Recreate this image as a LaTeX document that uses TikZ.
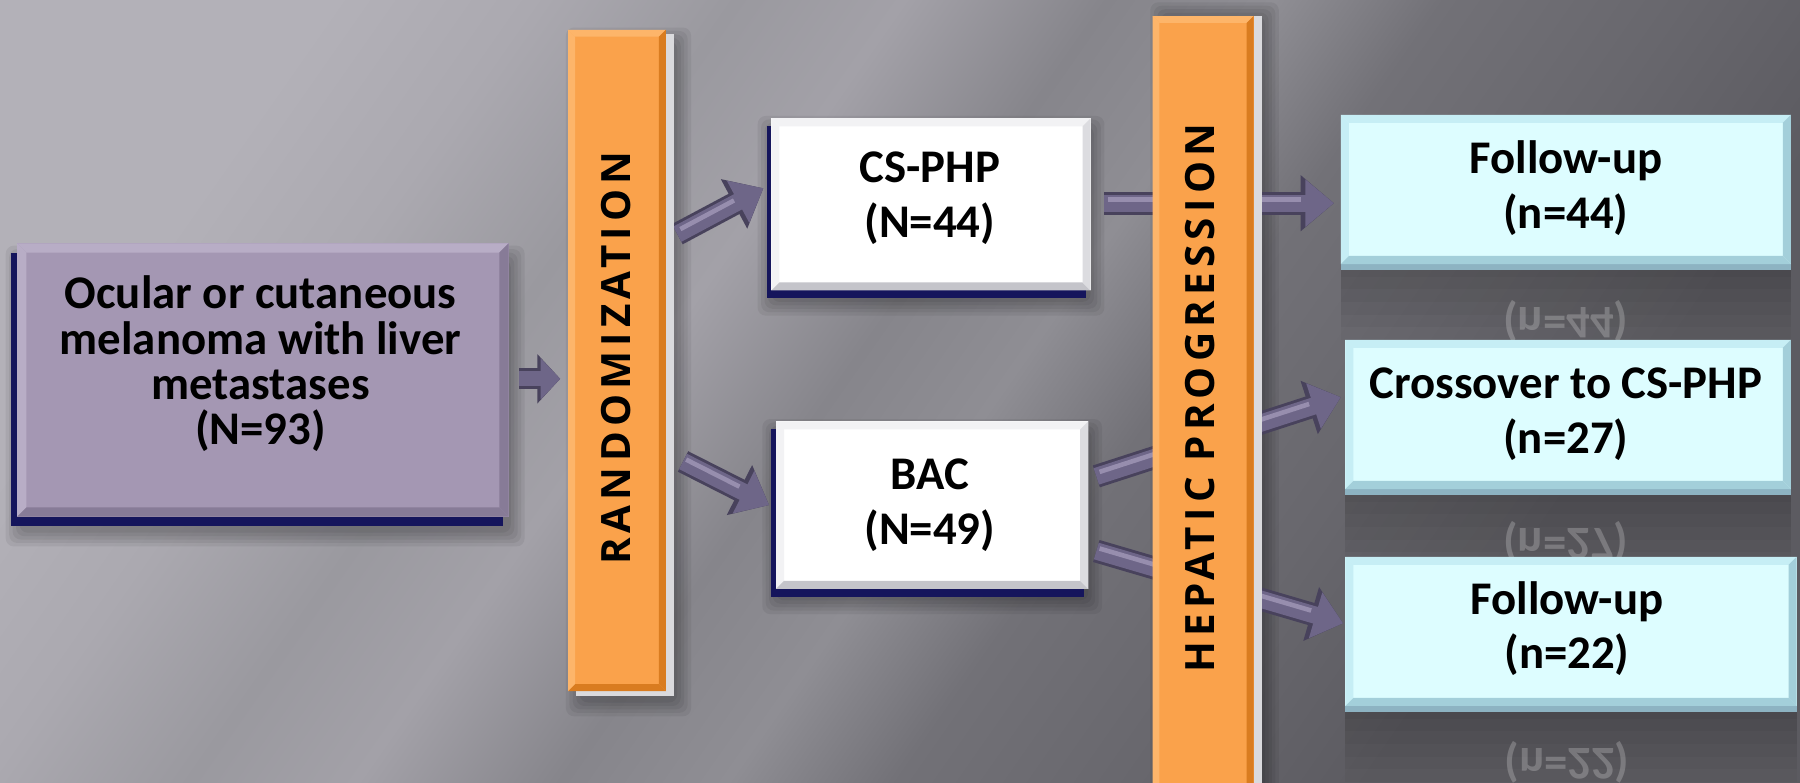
\documentclass[tikz,border=0pt]{standalone}
\usepackage{fontspec}
\setmainfont{Carlito}
\newfontfamily\barfont[LetterSpace=13]{Open Sans}
\usetikzlibrary{arrows.meta,calc}
\definecolor{bg1}{HTML}{B3B1B8}
\definecolor{bg2}{HTML}{ABA9B0}
\definecolor{bg3}{HTML}{9A999F}
\definecolor{bg4}{HTML}{A3A1A8}
\definecolor{bg5}{HTML}{86858B}
\definecolor{bg6}{HTML}{8F8E94}
\definecolor{bg7}{HTML}{727177}
\definecolor{bg8}{HTML}{68676D}
\definecolor{bg9}{HTML}{5C5B61}
\pgfdeclarehorizontalshading{bgsh}{100bp}{color(0bp)=(bg1); color(25bp)=(bg1); color(31bp)=(bg2); color(37bp)=(bg3); color(42bp)=(bg4); color(48bp)=(bg5); color(53bp)=(bg6); color(58bp)=(bg7); color(65bp)=(bg8); color(72bp)=(bg9); color(100bp)=(bg9)}
\definecolor{purp}{HTML}{A497B3}
\definecolor{purpL}{HTML}{B8ADC6}
\definecolor{purpD}{HTML}{877B97}
\definecolor{navy}{HTML}{15155C}
\definecolor{orng}{HTML}{FAA24B}
\definecolor{orngL}{HTML}{FDB56A}
\definecolor{orngD}{HTML}{D97C20}
\definecolor{cyanb}{HTML}{DDFDFF}
\definecolor{cyanL}{HTML}{C6EEF5}
\definecolor{cyanD}{HTML}{A3CFDA}
\definecolor{cyanE}{HTML}{8DB3C2}
\definecolor{wL}{HTML}{F2F2F4}
\definecolor{wD}{HTML}{C4C4CA}
\definecolor{wR}{HTML}{DCDCE0}
\definecolor{strip}{HTML}{DADADD}
\definecolor{arrw}{HTML}{6E6688}
\definecolor{arrwL}{HTML}{978EAE}
\definecolor{arrwD}{HTML}{48425C}
\pgfdeclarelayer{bgl}
\pgfdeclarelayer{shl}
\pgfdeclarelayer{arl}
\pgfdeclarelayer{exl}
\pgfsetlayers{bgl,shl,arl,exl,main}
\tikzset{
  face/.style={rectangle, inner sep=0pt, outer sep=0pt},
  lbl/.style={font=\fontsize{11.6}{11.2}\selectfont\bfseries, align=center, inner sep=0pt, text=black},
  lbls/.style={font=\fontsize{11.6}{13.5}\selectfont\bfseries, align=center, inner sep=0pt, text=black},
  bartxt/.style={font=\barfont\fontsize{10}{10}\selectfont\bfseries, rotate=90, inner sep=0pt, text=black},
  arrowout/.style={draw=arrwD, line width=0.20cm, -{Triangle[length=0.29cm,width=0.47cm]}},
  arrowin/.style={draw=arrw, line width=0.15cm, -{Triangle[length=0.25cm,width=0.40cm]}},
  arrowhi/.style={draw=arrwL, line width=0.04cm, shorten >=0.29cm, shorten <=0.03cm, transform canvas={yshift=0.03cm}},
  arrowouts/.style={draw=arrwD, line width=0.18cm, -{Triangle[length=0.20cm,width=0.42cm]}},
  arrowins/.style={draw=arrw, line width=0.13cm, -{Triangle[length=0.17cm,width=0.35cm]}},
  refl/.style={lbls, text=white, opacity=0.22, yscale=-1},
}
\newcommand\bevel[5]{%
  \fill[#3] (#1.north west) -- (#1.north east) -- ([shift={(-#2,-#2)}]#1.north east) -- ([shift={(#2,-#2)}]#1.north west) -- cycle;
  \fill[#3] (#1.north west) -- ([shift={(#2,-#2)}]#1.north west) -- ([shift={(#2,#2)}]#1.south west) -- (#1.south west) -- cycle;
  \fill[#4] (#1.south west) -- (#1.south east) -- ([shift={(-#2,#2)}]#1.south east) -- ([shift={(#2,#2)}]#1.south west) -- cycle;
  \fill[#5] (#1.south east) -- (#1.north east) -- ([shift={(-#2,-#2)}]#1.north east) -- ([shift={(-#2,#2)}]#1.south east) -- cycle;
}
\newcommand\extrude[4]{%
  \begin{pgfonlayer}{exl}
  \fill[#4] ([shift={(#2,#3)}]#1.north west) rectangle ([shift={(#2,#3)}]#1.south east);
  \end{pgfonlayer}}
\newcommand\softshadow[3]{%
  \begin{pgfonlayer}{shl}
  \foreach \s in {0,1,2,3,4}{
    \fill[black, opacity=0.06, rounded corners=2pt] ($(#1.north west)+(-0.03*\s+#2,0.03*\s+#3)$) rectangle ($(#1.south east)+(0.03*\s+#2,-0.03*\s+#3)$);
  }
  \end{pgfonlayer}}
\newcommand\reflband[1]{%
  \begin{pgfonlayer}{shl}
  \foreach \s in {1,2,3,4,5,6}{
    \fill[black, opacity=0.03] (#1.south west) rectangle ([yshift=-0.11cm*\s]#1.south east);
  }
  \end{pgfonlayer}}
\newcommand\fatarrow[2]{%
  \begin{pgfonlayer}{arl}
  \draw[arrowout] (#1) -- (#2);
  \draw[arrowin] (#1) -- (#2);
  \draw[arrowhi] (#1) -- (#2);
  \end{pgfonlayer}}
\begin{document}
\begin{tikzpicture}
\useasboundingbox (0,0) rectangle (15.68,-6.82);
\begin{pgfonlayer}{bgl}
  \shade[shading=bgsh, shading angle=-35] (0,0) rectangle (15.68,-6.82);
\end{pgfonlayer}

% boxes
\node[face, fill=purp, minimum width=4.28cm, minimum height=2.38cm] (src) at (2.29,-3.31) {};
\node[face, fill=orng, minimum width=0.85cm, minimum height=5.76cm] (rand) at (5.375,-3.14) {};
\node[face, fill=white, minimum width=2.78cm, minimum height=1.50cm] (cs) at (8.11,-1.78) {};
\node[face, fill=white, minimum width=2.72cm, minimum height=1.46cm] (bac) at (8.12,-4.40) {};
\node[face, fill=orng, minimum width=0.88cm, minimum height=7.0cm] (hep) at (10.48,-3.64) {};
\node[face, fill=cyanb, minimum width=3.92cm, minimum height=1.30cm] (fu1) at (13.64,-1.65) {};
\node[face, fill=cyanb, minimum width=3.88cm, minimum height=1.30cm] (cx) at (13.66,-3.61) {};
\node[face, fill=cyanb, minimum width=3.93cm, minimum height=1.30cm] (fu2) at (13.685,-5.50) {};

% extrusions
\extrude{src}{-0.05}{-0.08}{navy}
\extrude{cs}{-0.04}{-0.07}{navy}
\extrude{bac}{-0.04}{-0.07}{navy}
\extrude{rand}{0.07}{-0.04}{strip}
\extrude{hep}{0.07}{0}{strip}
\extrude{fu1}{0}{-0.05}{cyanE}
\extrude{cx}{0}{-0.05}{cyanE}
\extrude{fu2}{0}{-0.05}{cyanE}

% shadows
\softshadow{src}{0.02}{-0.14}
\softshadow{rand}{0.10}{-0.10}
\softshadow{cs}{0.0}{-0.10}
\softshadow{bac}{0.0}{-0.10}
\softshadow{hep}{0.10}{0}
\reflband{fu1}
\reflband{cx}
\reflband{fu2}

% bevels
\bevel{src}{0.08}{purpL}{purpD}{purpD}
\bevel{rand}{0.06}{orngL}{orngD}{orngD}
\bevel{hep}{0.06}{orngL}{orngD}{orngD}
\bevel{cs}{0.07}{wL}{wD}{wR}
\bevel{bac}{0.07}{wL}{wD}{wR}
\bevel{fu1}{0.07}{cyanL}{cyanD}{cyanD}
\bevel{cx}{0.07}{cyanL}{cyanD}{cyanD}
\bevel{fu2}{0.07}{cyanL}{cyanD}{cyanD}

% reflections
\begin{pgfonlayer}{shl}
\node[refl] (r1) at (13.64,-2.80) {(n=44)};
\node[refl] (r2) at (13.64,-4.72) {(n=27)};
\node[refl] (r3) at (13.65,-6.64) {(n=22)};
\end{pgfonlayer}

% texts
\node[lbl] (srct) at (2.27,-3.17) {Ocular or cutaneous\\melanoma with liver\\metastases\\(N=93)};
\node[bartxt] (randt) at (5.37,-3.12) {RANDOMIZATION};
\node[lbls] (cst) at (8.10,-1.725) {CS-PHP\\(N=44)};
\node[lbls] (bact) at (8.10,-4.40) {BAC\\(N=49)};
\node[bartxt] (hept) at (10.45,-3.47) {HEPATIC PROGRESSION};
\node[lbls] (fu1t) at (13.64,-1.64) {Follow-up\\(n=44)};
\node[lbls] (cxt) at (13.64,-3.61) {Crossover to CS-PHP\\(n=27)};
\node[lbls] (fu2t) at (13.65,-5.475) {Follow-up\\(n=22)};

% arrows
\coordinate (a1s) at (4.52,-3.30);
\coordinate (a1e) at (4.88,-3.30);
\coordinate (a2s) at (5.90,-2.04);
\coordinate (a2e) at (6.65,-1.64);
\coordinate (a3s) at (5.95,-4.02);
\coordinate (a3e) at (6.70,-4.40);
\coordinate (a4s) at (9.62,-1.77);
\coordinate (a4e) at (11.62,-1.77);
\coordinate (a5s) at (9.55,-4.15);
\coordinate (a5e) at (11.68,-3.46);
\coordinate (a6s) at (9.55,-4.80);
\coordinate (a6e) at (11.70,-5.43);
\begin{pgfonlayer}{arl}
  \draw[arrowouts] (a1s) -- (a1e);
  \draw[arrowins] (a1s) -- (a1e);
\end{pgfonlayer}
\fatarrow{a2s}{a2e}
\fatarrow{a3s}{a3e}
\fatarrow{a4s}{a4e}
\fatarrow{a5s}{a5e}
\fatarrow{a6s}{a6e}
\end{tikzpicture}
\end{document}
